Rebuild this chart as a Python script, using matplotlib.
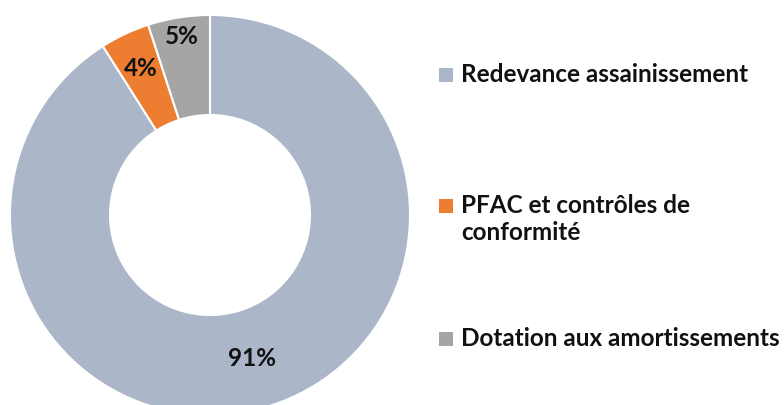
#!/usr/bin/env python
# -*- coding: utf-8 -*-
"""Donut chart of revenue shares for the sanitation budget."""

import numpy as np
import matplotlib
matplotlib.use("Agg")
import matplotlib.pyplot as plt
from matplotlib.patches import Rectangle


LABELS = [
    "Redevance assainissement",
    "PFAC et contrôles de\nconformité",
    "Dotation aux amortissements",
]
SHARES = [91, 4, 5]
COLORS = ["#ABB6C9", "#ED7D31", "#A5A5A5"]

# radial position of each percent label (fraction of outer radius)
LABEL_DIST = [0.745, 0.81, 0.905]
FONT = "Lato"
FONT_SIZE = 17.5


def main():
    fig = plt.figure(figsize=(7.84, 4.05), dpi=100)
    ax = fig.add_axes([10 / 784, -10 / 405, 400 / 784, 400 / 405])

    wedges, _ = ax.pie(
        SHARES,
        colors=COLORS,
        startangle=90,
        counterclock=False,
        radius=1.0,
        wedgeprops=dict(width=0.5, edgecolor="white", linewidth=1.5),
    )
    ax.set_xlim(-1, 1)
    ax.set_ylim(-1, 1)
    ax.set_aspect("equal")
    ax.axis("off")

    total = float(sum(SHARES))
    for wedge, share, dist in zip(wedges, SHARES, LABEL_DIST):
        mid = np.deg2rad((wedge.theta1 + wedge.theta2) / 2.0)
        ax.text(
            dist * np.cos(mid),
            dist * np.sin(mid),
            "{0:.0f}%".format(100 * share / total),
            ha="center",
            va="center",
            fontsize=FONT_SIZE,
            fontweight="bold",
            family=FONT,
            color="#111111",
        )

    # legend drawn by hand so the square sits on the first text line
    rows_y = [75, 206, 339]
    for label, color, y in zip(LABELS, COLORS, rows_y):
        fig.patches.append(
            Rectangle(
                (439 / 784, 1 - (y + 7) / 405),
                14 / 784,
                14 / 405,
                transform=fig.transFigure,
                facecolor=color,
                edgecolor="none",
            )
        )
        fig.text(
            461 / 784,
            1 - (y - 12) / 405,
            label,
            ha="left",
            va="top",
            fontsize=FONT_SIZE,
            fontweight="bold",
            family=FONT,
            color="#111111",
            linespacing=1.22,
        )

    fig.savefig("out.png", dpi=100)
    plt.close(fig)


if __name__ == "__main__":
    main()
